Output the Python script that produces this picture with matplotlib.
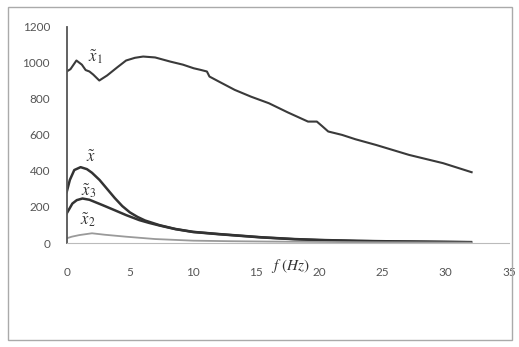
import matplotlib
matplotlib.use("Agg")
import matplotlib.pyplot as plt
from matplotlib.patches import Rectangle

plt.rcParams["mathtext.fontset"] = "stix"

# values
f_x1 = [0, 0.3, 0.77, 1.2, 1.5, 1.8, 2.1, 2.58, 3.2, 4.0, 4.7, 5.4, 6.05, 7.0, 8.2, 9.2, 10.05, 10.6,
        11.1, 11.3, 12.05, 13.3, 14.6, 16.0, 17.5, 19.1, 19.8, 20.2, 20.7, 21.8, 22.85, 24.5, 27.1, 29.8, 32.05]
v_x1 = [952, 965, 1013, 990, 960, 952, 935, 902, 930, 975, 1013, 1028, 1035, 1030, 1007, 990, 970, 961,
        952, 924, 896, 850, 812, 776, 725, 674, 674, 650, 619, 600, 576, 544, 489, 443, 393]

f_xt = [0, 0.25, 0.6, 1.1, 1.6, 2.0, 2.6, 3.2, 3.8, 4.4, 5.0, 5.6, 6.2, 7.35, 8.6, 10.0, 12.0, 13.5,
        15.4, 18.0, 20.0, 23.0, 26.0, 29.0, 32.0]
v_xt = [283, 350, 405, 421, 410, 390, 350, 300, 250, 205, 170, 145, 125, 99, 78, 62, 50, 42,
        32, 22, 17, 12, 9, 7, 5]

f_x3 = [0, 0.45, 0.8, 1.25, 1.8, 2.85, 3.8, 4.7, 5.75, 6.5, 7.35, 8.6, 10.0, 12.0, 13.5, 15.4, 18.0,
        20.0, 23.0, 26.0, 29.0, 32.0]
v_x3 = [164, 219, 238, 247, 240, 210, 182, 155, 127, 112, 97, 77, 61, 49, 41, 31, 21,
        16, 11, 8, 6, 4]

f_x2 = [0, 0.4, 1.0, 2.0, 3.0, 4.7, 7.0, 10.0, 13.0, 16.0, 20.0, 24.0, 28.0, 32.0]
v_x2 = [26, 35, 44, 54, 46, 35, 22, 13, 10, 8, 6, 4, 3, 2]

x_ticks = [0, 5, 10, 15, 20, 25, 30, 35]
y_ticks = [0, 200, 400, 600, 800, 1000, 1200]

fig = plt.figure(figsize=(5.19, 3.47), dpi=100)
ax = fig.add_axes([0.1285, 0.2997, 0.852, 0.623])

ax.plot(f_x1, v_x1, color="#3a3a3a", lw=1.5)
ax.plot(f_xt, v_xt, color="#333333", lw=1.8)
ax.plot(f_x3, v_x3, color="#333333", lw=1.8)
ax.plot(f_x2, v_x2, color="#9a9a9a", lw=1.3)

ax.set_xlim(0, 35)
ax.set_ylim(0, 1200)
ax.set_xticks(x_ticks)
ax.set_yticks(y_ticks)
ax.tick_params(length=0, labelsize=8.5, labelcolor="#555555", pad=12)
ax.tick_params(axis="x", pad=17)
for lab in ax.get_xticklabels() + ax.get_yticklabels():
    lab.set_family("Lato")

for s in ["top", "right"]:
    ax.spines[s].set_visible(False)
ax.spines["left"].set_color("#555555")
ax.spines["left"].set_linewidth(1.3)
ax.spines["bottom"].set_color("#bbbbbb")

ax.text(2.3, 1035, r"$\tilde{x}_1$", fontsize=12, ha="center", va="center", color="#333333")
ax.text(1.9, 480, r"$\tilde{x}$", fontsize=12, ha="center", va="center", color="#333333")
ax.text(1.7, 290, r"$\tilde{x}_3$", fontsize=12, ha="center", va="center", color="#333333")
ax.text(1.7, 130, r"$\tilde{x}_2$", fontsize=12, ha="center", va="center", color="#333333")
ax.text(17.7, -125, r"$f\ (Hz)$", fontsize=11, ha="center", va="center", color="#333333", clip_on=False)

# frame around the whole chart
fig.patches.append(Rectangle((8 / 519, 7 / 347), 504 / 519, 333 / 347, transform=fig.transFigure,
                             fill=False, edgecolor="#aaaaaa", lw=1.0))

fig.savefig("out.png", dpi=100)
